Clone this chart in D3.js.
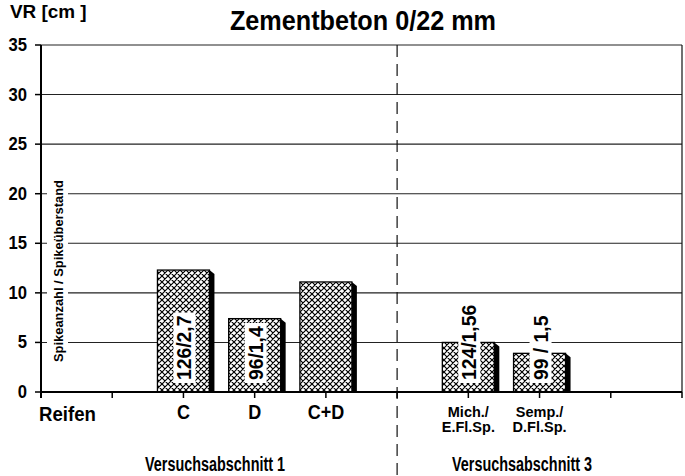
<!DOCTYPE html>
<html>
<head>
<meta charset="utf-8">
<script src="https://cdn.jsdelivr.net/npm/d3@7"></script>
<style>
body { margin: 0; background: #fff; }
text { font-family: "Liberation Sans", Arial, sans-serif; font-weight: bold; fill: #000; }
</style>
</head>
<body>
<script>
var w = 685;
var h = 476;

// slot positions along the x axis (0 = y axis, 9 = right edge)
var categories = ["C", "D", "C+D", "Mich./E.Fl.Sp.", "Semp./D.Fl.Sp."];
var slots = [2, 3, 4, 6, 7];
var values = [12.3, 7.4, 11.1, 5.0, 3.9];
var barLabels = ["126/2,7", "96/1,4", "", "124/1,56", "99 / 1,5"];
var yTicks = [0, 5, 10, 15, 20, 25, 30, 35];
var sections = ["Versuchsabschnitt 1", "Versuchsabschnitt 3"];

var x = d3.scaleLinear().domain([0, 9]).range([41, 682]);
var y = d3.scaleLinear().domain([0, 35]).range([392, 45]);

var svg = d3.select("body").append("svg")
    .attr("width", w)
    .attr("height", h);

// squeeze text horizontally to imitate a condensed face
function narrow(sel, k) {
    sel.each(function () {
        var len = this.getComputedTextLength();
        d3.select(this)
            .attr("textLength", len * k)
            .attr("lengthAdjust", "spacingAndGlyphs");
    });
}

// crosshatch fill
var defs = svg.append("defs");
var pat = defs.append("pattern")
    .attr("id", "hatch")
    .attr("patternUnits", "userSpaceOnUse")
    .attr("width", 6)
    .attr("height", 6);
pat.append("rect").attr("width", 6).attr("height", 6).attr("fill", "#fff");
pat.append("path")
    .attr("d", "M0,0 L6,6 M6,0 L0,6 M-1,5 L1,7 M5,-1 L7,1 M-1,1 L1,-1 M5,7 L7,5")
    .attr("stroke", "#000")
    .attr("stroke-width", 1.2);

// gridlines
svg.selectAll(".grid")
    .data(yTicks.filter(function (d) { return d > 0; }))
    .enter()
    .append("line")
    .attr("x1", x(0))
    .attr("x2", x(9))
    .attr("y1", function (d) { return y(d); })
    .attr("y2", function (d) { return y(d); })
    .attr("stroke", "#222")
    .attr("stroke-width", 1.1);

// right border
svg.append("line")
    .attr("x1", x(9)).attr("x2", x(9))
    .attr("y1", y(35)).attr("y2", y(0))
    .attr("stroke", "#111").attr("stroke-width", 1.2);

// rotated label on the left with white backing
svg.append("rect")
    .attr("x", 47).attr("y", 176)
    .attr("width", 21).attr("height", 190)
    .attr("fill", "#fff");
svg.append("text")
    .attr("transform", "translate(63,271) rotate(-90)")
    .attr("text-anchor", "middle")
    .style("font-size", "13px")
    .attr("textLength", 182)
    .attr("lengthAdjust", "spacingAndGlyphs")
    .text("Spikeanzahl / Spikeüberstand");

// divider
svg.append("line")
    .attr("x1", x(5)).attr("x2", x(5))
    .attr("y1", y(35)).attr("y2", h)
    .attr("stroke", "#111")
    .attr("stroke-width", 1.2)
    .attr("stroke-dasharray", "12,7");

var bw = 52;

// bar shadows
svg.selectAll(".shadow")
    .data(values)
    .enter()
    .append("path")
    .attr("d", function (d, i) {
        var x0 = x(slots[i]) + bw / 2;
        var top = y(d);
        return "M" + x0 + "," + top + " L" + (x0 + 5) + "," + (top + 4) +
            " L" + (x0 + 5) + "," + y(0) + " L" + x0 + "," + y(0) + "Z";
    })
    .attr("fill", "#000");

// bars
svg.selectAll(".bar")
    .data(values)
    .enter()
    .append("rect")
    .attr("x", function (d, i) { return x(slots[i]) - bw / 2; })
    .attr("y", function (d) { return y(d); })
    .attr("width", bw)
    .attr("height", function (d) { return y(0) - y(d); })
    .attr("fill", "url(#hatch)")
    .attr("stroke", "#000")
    .attr("stroke-width", 1.3);

// bar labels (rotated, on white)
var lab = svg.selectAll(".blab")
    .data(barLabels)
    .enter()
    .append("g")
    .attr("transform", function (d, i) {
        return "translate(" + (x(slots[i]) + 8) + "," + (y(0) - 12) + ") rotate(-90)";
    });
lab.append("text")
    .attr("x", 0)
    .attr("y", 0)
    .style("font-size", "21px")
    .text(function (d) { return d; })
    .call(narrow, 0.92);
lab.each(function (d) {
    if (!d) return;
    var g = d3.select(this);
    var bb = g.select("text").node().getBBox();
    g.insert("rect", "text")
        .attr("x", bb.x - 3)
        .attr("y", bb.y + 1)
        .attr("width", bb.width + 6)
        .attr("height", bb.height - 1)
        .attr("fill", "#fff");
});

// axes
svg.append("line")
    .attr("x1", x(0)).attr("x2", x(9))
    .attr("y1", y(0)).attr("y2", y(0))
    .attr("stroke", "#000").attr("stroke-width", 2);
svg.append("line")
    .attr("x1", x(0)).attr("x2", x(0))
    .attr("y1", y(35)).attr("y2", y(0) + 6)
    .attr("stroke", "#000").attr("stroke-width", 2);

svg.selectAll(".xtick")
    .data(d3.range(1, 10))
    .enter()
    .append("line")
    .attr("x1", function (d) { return x(d); })
    .attr("x2", function (d) { return x(d); })
    .attr("y1", y(0))
    .attr("y2", y(0) + 6)
    .attr("stroke", "#000")
    .attr("stroke-width", 1.5);

svg.selectAll(".ytick")
    .data(yTicks)
    .enter()
    .append("line")
    .attr("x1", x(0) - 6)
    .attr("x2", x(0))
    .attr("y1", function (d) { return y(d); })
    .attr("y2", function (d) { return y(d); })
    .attr("stroke", "#000")
    .attr("stroke-width", 1.5);

svg.selectAll(".ylab")
    .data(yTicks)
    .enter()
    .append("text")
    .attr("x", 27)
    .attr("y", function (d) { return y(d) + 6; })
    .attr("text-anchor", "end")
    .style("font-size", "17.5px")
    .text(function (d) { return d; })
    .call(narrow, 0.95);

// category labels
svg.selectAll(".xlab")
    .data(categories)
    .enter()
    .append("text")
    .attr("text-anchor", "middle")
    .attr("transform", function (d, i) {
        return "translate(" + x(slots[i]) + "," + (d.indexOf("/") > 0 ? 417 : 419) + ")";
    })
    .each(function (d) {
        var t = d3.select(this);
        var parts = d.split("/");
        if (parts.length > 1) {
            t.style("font-size", "14.5px");
            t.append("tspan").attr("x", 0).attr("dy", 0).text(parts[0] + "/");
            t.append("tspan").attr("x", 0).attr("dy", 15).text(parts[1]);
        } else {
            t.style("font-size", "20px").text(d).call(narrow, 0.9);
        }
    });

svg.append("text")
    .attr("x", 39).attr("y", 421)
    .style("font-size", "20px")
    .text("Reifen")
    .call(narrow, 0.93);

svg.selectAll(".sect")
    .data(sections)
    .enter()
    .append("text")
    .attr("x", function (d, i) { return i === 0 ? 215 : 522; })
    .attr("y", 471)
    .attr("text-anchor", "middle")
    .style("font-size", "20px")
    .text(function (d) { return d; })
    .call(narrow, 0.72);

// titles
svg.append("text")
    .attr("x", 363).attr("y", 30)
    .attr("text-anchor", "middle")
    .style("font-size", "28px")
    .text("Zementbeton 0/22 mm")
    .call(narrow, 0.9);

svg.append("text")
    .attr("x", 10).attr("y", 18)
    .style("font-size", "18px")
    .text("VR [cm ]")
    .call(narrow, 1.05);
</script>
</body>
</html>
